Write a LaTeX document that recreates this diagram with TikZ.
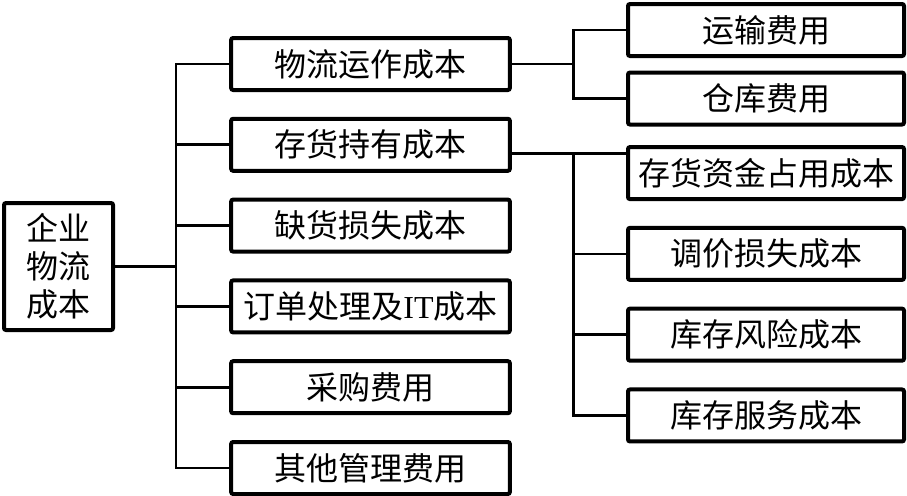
\documentclass[tikz,border=0pt]{standalone}
\usepackage{fontspec}
\setmainfont{Liberation Serif}
\newfontfamily\cjk{Noto Sans CJK SC}
\usetikzlibrary{positioning}
\tikzset{
  cbox/.style={draw, line width=3pt, rounded corners=1.5pt, align=center,
               inner sep=0pt, font=\cjk\fontsize{24}{28.5}\selectfont},
  nmid/.style={cbox, minimum width=209pt, minimum height=39pt},
  nsub/.style={cbox, minimum width=207pt, minimum height=39pt},
  nroot/.style={cbox, minimum width=81.75pt, minimum height=95.25pt},
  link/.style={line width=2pt, line cap=rect},
}

\begin{document}
\begin{tikzpicture}[x=0.75pt, y=-0.75pt, node distance=18.6pt]
  \useasboundingbox (0,0) rectangle (907,496);
  % root
  \node[nroot] (root) at (58.5,266.5) {企业\\物流\\成本};
  % first level
  \node[nmid] (op) at (370.5,64) {物流运作成本};
  \node[nmid, below=of op] (hold) {存货持有成本};
  \node[nmid, below=of hold] (short) {缺货损失成本};
  \node[nmid, below=of short] (order) {订单处理及{\rmfamily IT}成本};
  \node[nmid, below=of order] (buy) {采购费用};
  \node[nmid, below=of buy] (misc) {其他管理费用};
  % second level
  \node[nsub] (trans) at (766,30) {运输费用};
  \node[nsub, below=9.4pt of trans] (ware) {仓库费用};
  \node[nsub, below=13.9pt of ware] (cap) {存货资金占用成本};
  \node[nsub, below=of cap] (price) {调价损失成本};
  \node[nsub, below=of price] (risk) {库存风险成本};
  \node[nsub, below=of risk] (serv) {库存服务成本};
  % connectors
  \coordinate (sl) at (176,0);
  \coordinate (sr) at (573.5,0);
  \draw[link] (root.east) -- (root.east -| sl);
  \draw[link] (op.west -| sl) -- (misc.west -| sl);
  \foreach \n in {op,hold,short,order,buy,misc}
     \draw[link] (\n.west -| sl) -- (\n.west);
  \draw[link] (op.east) -- (op.east -| sr);
  \draw[link] (trans.west) -| (op.east -| sr) |- (ware.west);
  \coordinate (hx) at ([yshift=-6.75pt]hold.east);
  \draw[link] (hx) -- (hx -| cap.west);
  \draw[link] (hx -| sr) -- (serv.west -| sr);
  \foreach \n in {price,risk,serv}
     \draw[link] (\n.west -| sr) -- (\n.west);
\end{tikzpicture}
\end{document}
